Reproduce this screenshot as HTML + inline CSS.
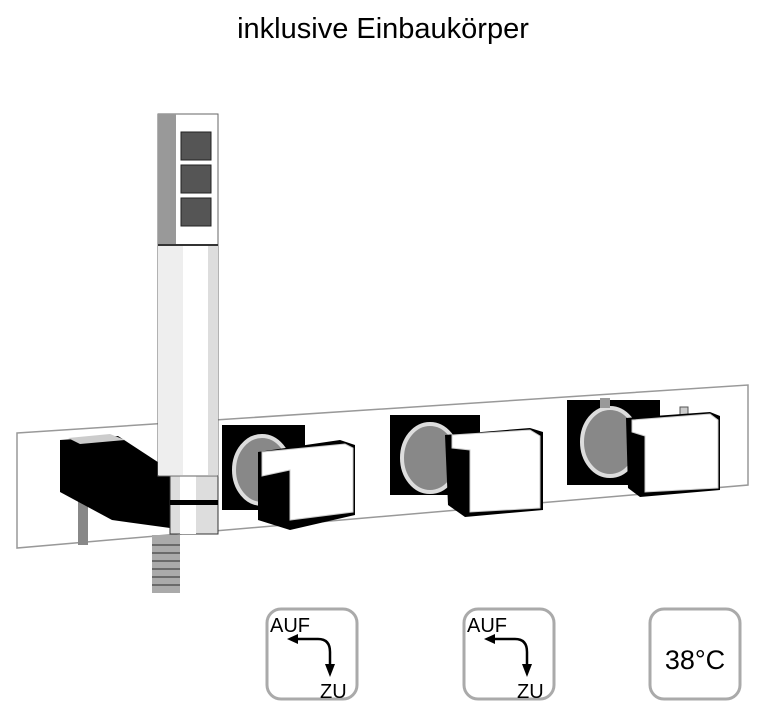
<!DOCTYPE html>
<html><head><style>
html,body{margin:0;padding:0;background:#fff;width:767px;height:709px;overflow:hidden}
</style></head><body>
<svg width="767" height="709" xmlns="http://www.w3.org/2000/svg" font-family="Liberation Sans, Arial, sans-serif">
<text x="383" y="38" text-anchor="middle" font-size="29" fill="#000">inklusive Einbaukörper</text>
<!-- plate -->
<polygon points="17,433 748,385 748,485 17,548" fill="#fff" stroke="#999" stroke-width="1.5"/>
<!-- hose -->
<rect x="152" y="535" width="28" height="58" fill="#aaa"/>
<g stroke="#555" stroke-width="1.5">
<line x1="152" y1="545" x2="180" y2="545"/><line x1="152" y1="553" x2="180" y2="553"/><line x1="152" y1="561" x2="180" y2="561"/><line x1="152" y1="569" x2="180" y2="569"/><line x1="152" y1="577" x2="180" y2="577"/><line x1="152" y1="585" x2="180" y2="585"/></g>
<rect x="78" y="495" width="10" height="50" fill="#888"/>
<!-- holder -->
<polygon points="60,440 118,436 170,470 170,528 112,520 60,492" fill="#000"/>
<polygon points="68,438 110,434 125,440 80,444" fill="#ccc"/>
<rect x="170" y="474" width="48" height="60" fill="#ddd" stroke="#333"/>
<rect x="180" y="474" width="16" height="60" fill="#fff"/>
<rect x="170" y="500" width="48" height="5" fill="#000"/>
<!-- hand shower -->
<rect x="158" y="114" width="60" height="362" fill="#fff" stroke="#666"/>
<rect x="158" y="114" width="18" height="131" fill="#999"/>
<rect x="158" y="245" width="25" height="230" fill="#eee"/>
<rect x="208" y="245" width="10" height="230" fill="#ddd"/>
<line x1="158" y1="245" x2="218" y2="245" stroke="#333" stroke-width="2"/>
<rect x="181" y="132" width="30" height="28" fill="#555" stroke="#222"/>
<rect x="181" y="165" width="30" height="28" fill="#555" stroke="#222"/>
<rect x="181" y="198" width="30" height="28" fill="#555" stroke="#222"/>
<!-- knob 1 -->
<rect x="222" y="425" width="83" height="85" fill="#000"/>
<ellipse cx="262" cy="470" rx="28" ry="34" fill="#888" stroke="#ddd" stroke-width="4"/>
<polygon points="258,452 340,440 355,445 355,515 290,530 258,520" fill="#000"/>
<polygon points="262,452 345,444 353,448 353,512 290,520 290,470 262,476" fill="#fff" stroke="#ccc"/>
<!-- knob 2 -->
<rect x="390" y="415" width="90" height="80" fill="#000"/>
<ellipse cx="430" cy="458" rx="28" ry="34" fill="#888" stroke="#ddd" stroke-width="4"/>
<polygon points="445,435 530,428 543,432 543,510 465,517 448,505" fill="#000"/>
<polygon points="452,435 530,430 540,436 540,508 470,512 470,450 452,448" fill="#fff" stroke="#ccc"/>
<!-- knob 3 -->
<rect x="567" y="400" width="93" height="85" fill="#000"/>
<ellipse cx="610" cy="442" rx="28" ry="34" fill="#888" stroke="#ddd" stroke-width="4"/>
<rect x="600" y="398" width="10" height="10" fill="#999"/>
<rect x="680" y="407" width="8" height="14" fill="#ccc" stroke="#555"/>
<polygon points="626,418 710,412 720,416 720,490 640,497 628,488" fill="#000"/>
<polygon points="632,420 710,414 718,420 718,488 645,492 645,436 632,432" fill="#fff" stroke="#ccc"/>
<!-- icons -->
<g fill="none" stroke="#aaa" stroke-width="3">
<rect x="267" y="609" width="90" height="90" rx="14"/>
<rect x="464" y="609" width="90" height="90" rx="14"/>
<rect x="650" y="609" width="90" height="90" rx="14"/>
</g>
<g font-size="20" fill="#000">
<text x="270" y="632">AUF</text><text x="320" y="698">ZU</text>
<text x="467" y="632">AUF</text><text x="517" y="698">ZU</text>
<text x="695" y="669" font-size="27" text-anchor="middle">38°C</text>
</g>
<g stroke="#000" stroke-width="2.5" fill="none">
<path d="M294,639 H318 Q330,639 330,652 V666"/>
<path d="M491,639 H515 Q527,639 527,652 V666"/>
</g>
<g fill="#000">
<polygon points="287,639 298,634 298,644"/><polygon points="325,664 335,664 330,677"/>
<polygon points="484,639 495,634 495,644"/><polygon points="522,664 532,664 527,677"/>
</g>
</svg>
</body></html>
